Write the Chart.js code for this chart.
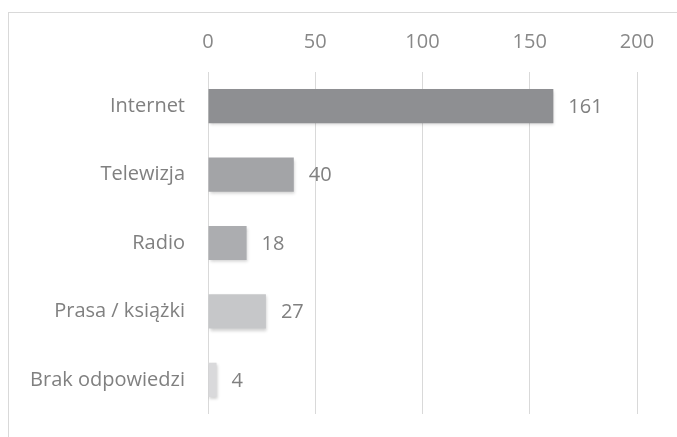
<!DOCTYPE html>
<html>
<head>
<meta charset="utf-8">
<script src="https://cdn.jsdelivr.net/npm/chart.js@4"></script>
<style>
  html, body { margin: 0; padding: 0; background: #fff; }
  #wrap { position: relative; width: 677px; height: 437px; }
  #frame { position: absolute; left: 8px; top: 12px; width: 700px; height: 500px;
           border-left: 1px solid #d9d9d9; border-top: 1px solid #d9d9d9; }
  canvas { position: absolute; left: 0; top: 0; }
</style>
</head>
<body>
<div id="wrap">
  <div id="frame"></div>
  <canvas id="chartCanvas" width="677" height="437"></canvas>
</div>
<script>
const categories = ['Internet', 'Telewizja', 'Radio', 'Prasa / książki', 'Brak odpowiedzi'];
const values = [161, 40, 18, 27, 4];
const barColors = ['#8e8f92', '#a3a4a7', '#acadb0', '#c6c7c9', '#d9d9db'];
const xTicks = [0, 50, 100, 150, 200];

const fontFamily = "'Open Sans', 'Noto Sans', sans-serif";

// soft shadow under bars
const barShadow = {
    id: 'barShadow',
    beforeDatasetsDraw(chart) {
        const ctx = chart.ctx;
        ctx.save();
        ctx.shadowColor = 'rgba(0,0,0,0.18)';
        ctx.shadowBlur = 3;
        ctx.shadowOffsetX = 1;
        ctx.shadowOffsetY = 2;
    },
    afterDatasetsDraw(chart) {
        chart.ctx.restore();
    }
};

// value labels to the right of each bar
const valueLabels = {
    id: 'valueLabels',
    afterDatasetsDraw(chart) {
        const ctx = chart.ctx;
        const meta = chart.getDatasetMeta(0);
        ctx.save();
        ctx.font = '20px ' + fontFamily;
        ctx.fillStyle = '#808080';
        ctx.textAlign = 'left';
        ctx.textBaseline = 'middle';
        meta.data.forEach((bar, i) => {
            ctx.fillText(String(values[i]), bar.x + 15, bar.y + 1);
        });
        ctx.restore();
    }
};

new Chart(document.getElementById('chartCanvas'), {
    type: 'bar',
    data: {
        labels: categories,
        datasets: [{
            data: values,
            backgroundColor: barColors,
            borderWidth: 0,
            categoryPercentage: 1,
            barPercentage: 0.5
        }]
    },
    options: {
        indexAxis: 'y',
        responsive: false,
        animation: false,
        layout: { padding: { left: 0, right: 40, top: 0, bottom: 23 } },
        plugins: { legend: { display: false }, tooltip: { enabled: false } },
        scales: {
            x: {
                position: 'top',
                min: 0,
                max: 200,
                afterBuildTicks(axis) { axis.ticks = xTicks.map(v => ({ value: v })); },
                afterFit(axis) { axis.height = 72; },
                grid: { color: '#d9d9d9', drawTicks: false, lineWidth: 1 },
                border: { display: false },
                ticks: { color: '#888888', padding: 18, font: { family: fontFamily, size: 20 } }
            },
            y: {
                afterFit(axis) {
                    axis.width = 208;
                    axis.paddingTop = 0;
                    axis.paddingBottom = 0;
                },
                grid: { display: false, drawTicks: false },
                border: { display: false },
                ticks: { color: '#808080', padding: 23, font: { family: fontFamily, size: 20 } }
            }
        }
    },
    plugins: [barShadow, valueLabels]
});
</script>
</body>
</html>
